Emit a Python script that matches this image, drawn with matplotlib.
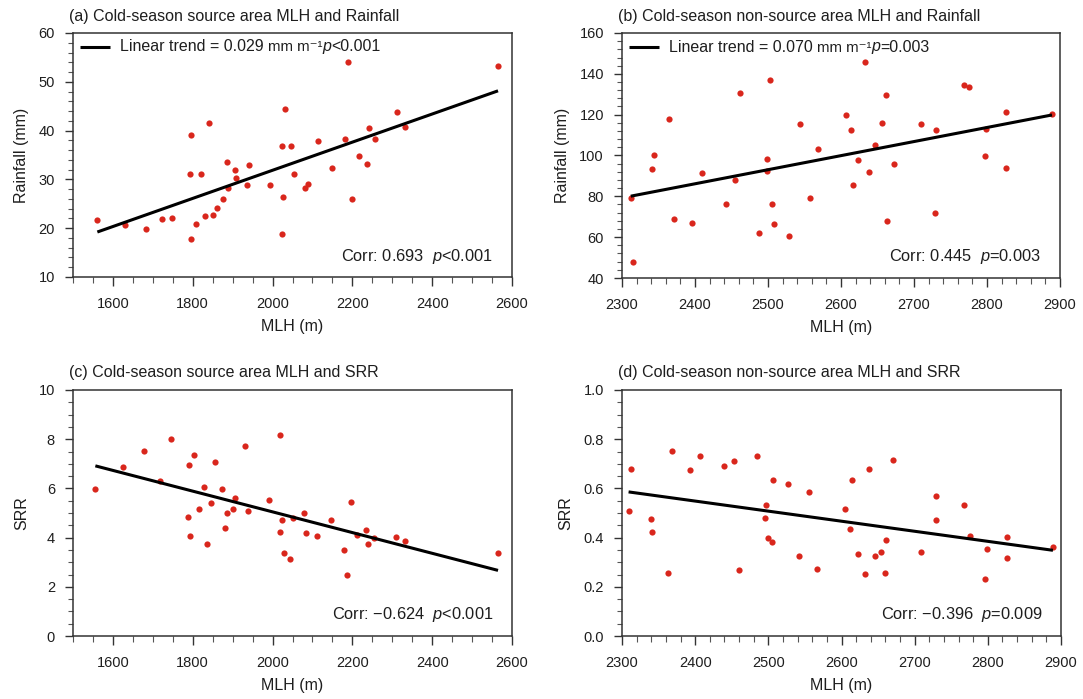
import numpy as np
import matplotlib
matplotlib.use("Agg")
import matplotlib.pyplot as plt
from matplotlib.ticker import MultipleLocator, FormatStrFormatter

plt.rcParams['font.family'] = ['Liberation Sans', 'DejaVu Sans']
plt.rcParams['mathtext.fontset'] = 'custom'
plt.rcParams['mathtext.rm'] = 'Liberation Sans'
plt.rcParams['mathtext.it'] = 'Liberation Sans:italic'

# ---- data ----
src_mlh_a = [1561, 1631, 1682, 1722, 1749, 1796, 1792, 1795, 1807, 1820, 1841, 1832, 1851, 1860,
             1876, 1885, 1889, 1906, 1908, 1936, 1942, 1994, 2024, 2032, 2046, 2025, 2024, 2055,
             2081, 2088, 2113, 2149, 2181, 2189, 2200, 2216, 2237, 2242, 2257, 2311, 2332, 2565]
src_rain = [21.7, 20.6, 19.9, 21.8, 22.0, 39.2, 31.2, 17.8, 20.8, 31.2, 41.5, 22.5, 22.8, 24.1,
            26.0, 33.6, 28.3, 32.0, 30.2, 28.9, 32.9, 28.8, 36.8, 44.4, 36.8, 26.4, 18.9, 31.2,
            28.2, 29.0, 37.9, 32.4, 38.2, 54.1, 26.0, 34.7, 33.1, 40.5, 38.3, 43.8, 40.7, 53.3]

non_mlh_b = [2312, 2315, 2341, 2344, 2365, 2371, 2396, 2409, 2443, 2455, 2462, 2487, 2499, 2498,
             2503, 2506, 2508, 2529, 2544, 2557, 2569, 2607, 2614, 2616, 2623, 2633, 2638, 2647,
             2656, 2661, 2663, 2672, 2709, 2730, 2729, 2768, 2775, 2797, 2799, 2826, 2826, 2889]
non_rain = [79.3, 47.8, 93.5, 100.2, 118.0, 69.0, 67.1, 91.2, 76.0, 88.0, 130.8, 61.8, 98.4, 92.5,
            136.9, 76.0, 66.6, 60.6, 115.4, 79.1, 103.4, 119.9, 112.3, 85.7, 98.0, 145.7, 91.7, 105.2,
            116.0, 129.6, 67.9, 95.6, 115.4, 112.3, 72.0, 134.5, 133.4, 99.7, 112.8, 121.4, 93.8, 120.1]

src_mlh_c = [1556, 1626, 1678, 1719, 1745, 1791, 1804, 1789, 1792, 1816, 1828, 1837, 1847, 1855,
             1873, 1881, 1885, 1902, 1905, 1932, 1938, 1992, 2019, 2023, 2019, 2029, 2043, 2052,
             2078, 2085, 2111, 2147, 2179, 2186, 2197, 2212, 2234, 2240, 2254, 2309, 2331, 2565]
src_srr = [5.97, 6.89, 7.54, 6.31, 7.99, 6.97, 7.36, 4.83, 4.05, 5.17, 6.06, 3.75, 5.39, 7.07,
           5.98, 4.37, 4.98, 5.16, 5.59, 7.72, 5.09, 5.51, 8.19, 4.72, 4.22, 3.36, 3.11, 4.78,
           4.99, 4.20, 4.06, 4.72, 3.48, 2.49, 5.44, 4.11, 4.29, 3.72, 3.99, 4.02, 3.87, 3.38]

non_mlh_d = [2309, 2312, 2339, 2341, 2363, 2369, 2393, 2407, 2440, 2453, 2460, 2485, 2497, 2496,
             2500, 2505, 2506, 2527, 2542, 2556, 2567, 2605, 2612, 2615, 2622, 2632, 2637, 2646,
             2654, 2660, 2661, 2671, 2708, 2729, 2729, 2767, 2775, 2796, 2799, 2826, 2826, 2889]
non_srr = [0.508, 0.679, 0.475, 0.421, 0.258, 0.753, 0.673, 0.730, 0.690, 0.711, 0.269, 0.731, 0.531, 0.479,
           0.399, 0.384, 0.636, 0.616, 0.327, 0.586, 0.272, 0.517, 0.434, 0.636, 0.333, 0.253, 0.679, 0.327,
           0.340, 0.258, 0.391, 0.715, 0.341, 0.571, 0.470, 0.533, 0.407, 0.230, 0.355, 0.401, 0.319, 0.360]

titles = ["(a) Cold-season source area MLH and Rainfall",
          "(b) Cold-season non-source area MLH and Rainfall",
          "(c) Cold-season source area MLH and SRR",
          "(d) Cold-season non-source area MLH and SRR"]
trend_values = ["Linear trend = 0.029", "Linear trend = 0.070", None, None]
trend_units = "mm m\u207b\u00b9"
trend_pvals = ["<0.001", "=0.003", None, None]
corr_labels = [r"Corr: 0.693  $\mathit{p}$<0.001", r"Corr: 0.445  $\mathit{p}$=0.003",
               r"Corr: $-$0.624  $\mathit{p}$<0.001", r"Corr: $-$0.396  $\mathit{p}$=0.009"]
ylabels = ["Rainfall (mm)", "Rainfall (mm)", "SRR", "SRR"]

TXT = '#1e1e1e'
fig = plt.figure(figsize=(10.83, 6.99), dpi=100)
W, H = 1083, 699
boxes = [(73, 33, 512, 277), (622, 33, 1060, 278), (73, 390, 512, 636), (622, 390, 1061, 636)]
axes = [fig.add_axes([l / W, 1 - b / H, (r - l) / W, (b - t) / H]) for (l, t, r, b) in boxes]

datasets = [(src_mlh_a, src_rain), (non_mlh_b, non_rain), (src_mlh_c, src_srr), (non_mlh_d, non_srr)]
xlims = [(1500, 2600), (2300, 2900), (1500, 2600), (2300, 2900)]
xmaj = [200, 100, 200, 100]
xmin = [50, 20, 50, 20]
ylims = [(10, 60), (40, 160), (0, 10), (0, 1.0)]
ymaj = [10, 20, 2, 0.2]
ymin = [2, 4, 0.5, 0.05]

for i, ax in enumerate(axes):
    x = np.array(datasets[i][0], float)
    y = np.array(datasets[i][1], float)
    ax.scatter(x, y, s=20, color='#d9261c', zorder=3, linewidths=0)
    k, b0 = np.polyfit(x, y, 1)
    xs = np.array([x.min(), x.max()])
    ax.plot(xs, k * xs + b0, color='black', lw=2.2, zorder=4, solid_capstyle='butt')
    ax.set_xlim(*xlims[i])
    ax.set_ylim(*ylims[i])
    ax.xaxis.set_major_locator(MultipleLocator(xmaj[i]))
    ax.xaxis.set_minor_locator(MultipleLocator(xmin[i]))
    ax.yaxis.set_major_locator(MultipleLocator(ymaj[i]))
    ax.yaxis.set_minor_locator(MultipleLocator(ymin[i]))
    if i == 3:
        ax.yaxis.set_major_formatter(FormatStrFormatter('%.1f'))
    ax.tick_params(axis='x', which='major', direction='out', length=6.5, width=1.0, pad=8,
                   labelsize=10.5, colors='#333333', labelcolor=TXT)
    ax.tick_params(axis='y', which='major', direction='out', length=6, width=1.0, pad=7,
                   labelsize=10.5, colors='#333333', labelcolor=TXT)
    ax.tick_params(axis='x', which='minor', direction='out', length=4, width=0.8, colors='#555555')
    ax.tick_params(axis='y', which='minor', direction='out', length=3.5, width=0.8, colors='#555555')
    ax.tick_params(which='both', top=False, right=False)
    for sp in ax.spines.values():
        sp.set_color('#333333')
        sp.set_linewidth(1.1)
    ax.set_xlabel("MLH (m)", fontsize=11.5, color=TXT, labelpad=5.5)
    ax.set_ylabel(ylabels[i], fontsize=11.5, color=TXT, labelpad=7)
    ax.text(-0.008, 1.0 + 17 / 245, titles[i], transform=ax.transAxes, ha='left', va='center',
            fontsize=11.5, color=TXT)
    ax.text(0.957, 0.086, corr_labels[i], transform=ax.transAxes, ha='right', va='center',
            fontsize=11.8, color=TXT)
    if trend_values[i]:
        yl = 1 - 14 / 245
        ax.plot([0.017, 0.085], [yl, yl], color='black', lw=2.2, transform=ax.transAxes,
                clip_on=False, solid_capstyle='butt')
        t1 = ax.text(0.108, yl, trend_values[i], transform=ax.transAxes, ha='left', va='center',
                     fontsize=11.5, color=TXT)
        t2 = ax.annotate(trend_units, xy=(1, 0), xycoords=t1, xytext=(2.5, 0),
                         textcoords='offset points', ha='left', va='bottom', fontsize=10.8, color=TXT)
        t3 = ax.annotate("p", xy=(1, 0), xycoords=t2, xytext=(0.5, 0),
                         textcoords='offset points', ha='left', va='bottom', fontsize=11.5,
                         style='italic', color=TXT)
        ax.annotate(trend_pvals[i], xy=(1, 0), xycoords=t3, xytext=(0, 0),
                    textcoords='offset points', ha='left', va='bottom', fontsize=11.5, color=TXT)

fig.savefig("out.png", dpi=100)
